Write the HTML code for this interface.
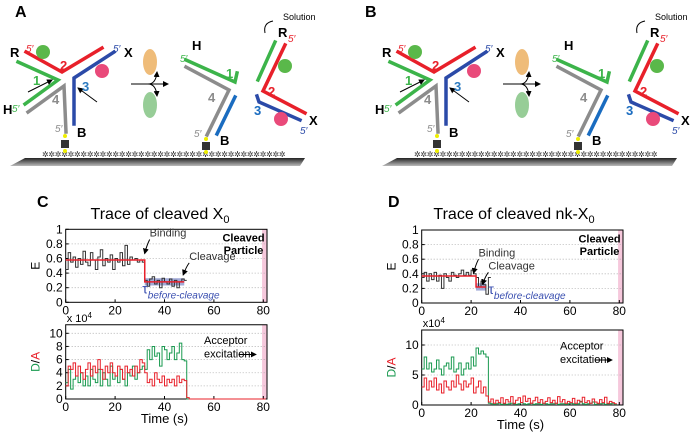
<!DOCTYPE html>
<html><head><meta charset="utf-8">
<style>
html,body{margin:0;padding:0;background:#fff;}
svg{display:block;font-family:"Liberation Sans",sans-serif;}
</style></head>
<body>
<svg id="fig" width="700" height="432" viewBox="0 0 700 432">
<defs>
<linearGradient id="surf" x1="0" y1="0" x2="0" y2="1"><stop offset="0" stop-color="#222"/><stop offset="1" stop-color="#bbb"/></linearGradient>
<marker id="arr" markerWidth="6" markerHeight="6" refX="5" refY="3" orient="auto"><path d="M0,0 L6,3 L0,6z" fill="#000"/></marker>
<g id="diagram">
  <polygon points="25,158 305,158 300,166 10,166" fill="url(#surf)"/>
  <text x="42" y="157" font-size="8" letter-spacing="-0.3" fill="#333">✲✲✲✲✲✲✲✲✲✲✲✲✲✲✲✲✲✲✲✲✲✲✲✲✲✲✲✲✲✲✲✲✲✲✲✲✲✲</text>
  <g fill="none" stroke-width="3.5" stroke-linecap="square">
    <polyline points="26,52 62,72 102,48" stroke="#e8202a"/>
    <polyline points="18,62 58,80 25,104" stroke="#3cb44a"/>
    <polyline points="114,52 74,78 74,124" stroke="#2b4aa8"/>
    <polyline points="28,112 64,86 66,132" stroke="#8c8c8c"/>
  </g>
  <circle cx="43" cy="52" r="7" fill="#5ab84a"/><circle cx="102" cy="71" r="7" fill="#e94a7a"/>
  <line x1="28" y1="92" x2="52" y2="80" stroke="#000" marker-end="url(#arr)"/>
  <line x1="97" y1="102" x2="78" y2="88" stroke="#000" marker-end="url(#arr)"/>
  <g font-weight="bold" font-size="13">
    <text x="10" y="57">R</text><text x="124" y="57">X</text><text x="3" y="114">H</text><text x="77" y="137">B</text>
    <text x="60" y="70" fill="#e8202a">2</text><text x="33" y="85" fill="#3cb44a">1</text><text x="82" y="91" fill="#2b7ac0">3</text><text x="52" y="104" fill="#8c8c8c">4</text>
  </g>
  <g font-style="italic" font-size="10">
    <text x="26" y="52" fill="#e8202a">5′</text><text x="113" y="52" fill="#2b4aa8">5′</text><text x="12" y="112" fill="#3cb44a">5′</text><text x="55" y="132" fill="#8c8c8c">5′</text>
  </g>
  <circle cx="65" cy="136" r="2" fill="#ee0"/><circle cx="65" cy="151" r="2" fill="#ee0"/>
  <rect x="61" y="140" width="8" height="8" fill="#333"/>
  <g><ellipse cx="150" cy="62" rx="7" ry="13" fill="#e8a040" opacity="0.7"/><ellipse cx="150" cy="105" rx="7" ry="13" fill="#6bb86b" opacity="0.7"/></g>
  <line x1="131" y1="84" x2="168" y2="84" stroke="#000" marker-end="url(#arr)"/>
  <path d="M148,84 q8,0 9,-12" fill="none" stroke="#000" marker-end="url(#arr)"/>
  <path d="M148,84 q8,0 9,12" fill="none" stroke="#000" marker-end="url(#arr)"/>
  <g fill="none" stroke-width="3.5" stroke-linecap="square">
    <polyline points="186,60 235,82 237,73" stroke="#3cb44a"/>
    <polyline points="186,67 229,90 207,135" stroke="#8c8c8c"/>
    <polyline points="235,97 217,134" stroke="#1a6cc0"/>
    <polyline points="258,80 275,42" stroke="#3cb44a"/>
    <polyline points="285,45 263,91 305,113" stroke="#e8202a"/>
    <polyline points="257,96 259,102 300,120" stroke="#2b4aa8"/>
  </g>
  <circle cx="285" cy="66" r="7" fill="#5ab84a"/><circle cx="281" cy="119" r="7" fill="#e94a7a"/>
  <path d="M265,33 q-2,-10 8,-12" fill="none" stroke="#000"/>
  <text x="283" y="20" font-size="9">Solution</text>
  <g font-weight="bold" font-size="13">
    <text x="192" y="50">H</text><text x="278" y="37">R</text><text x="309" y="125">X</text><text x="220" y="145">B</text>
    <text x="226" y="78" fill="#3cb44a">1</text><text x="268" y="96" fill="#e8202a">2</text><text x="254" y="115" fill="#1a6cc0">3</text><text x="208" y="102" fill="#8c8c8c">4</text>
  </g>
  <g font-style="italic" font-size="10">
    <text x="180" y="62" fill="#3cb44a">5′</text><text x="288" y="42" fill="#e8202a">5′</text><text x="300" y="134" fill="#2b4aa8">5′</text><text x="194" y="137" fill="#8c8c8c">5′</text>
  </g>
  <circle cx="206" cy="139" r="2" fill="#ee0"/><circle cx="206" cy="152" r="2" fill="#ee0"/>
  <rect x="202" y="142" width="8" height="8" fill="#333"/>
</g>
</defs>
<text x="15" y="17" font-size="16" font-weight="bold">A</text>
<use href="#diagram" x="0" y="0"/>
<text x="365" y="17" font-size="16" font-weight="bold">B</text>
<use href="#diagram" x="372" y="0"/>
<text x="37" y="207" font-size="16" font-weight="bold">C</text>
<text x="388" y="207" font-size="16" font-weight="bold">D</text>
<g id="charts"></g>
</svg>
<script>
// ---- Panel C data ----
const cE = [0.45,0.68,0.55,0.62,0.48,0.6,0.52,0.7,0.55,0.5,0.68,0.58,0.45,0.62,0.72,0.5,0.6,0.55,0.65,0.45,0.6,0.55,0.68,0.5,0.78,0.52,0.62,0.58,0.6,0.55,0.58,0.55,0.3,0.22,0.32,0.35,0.25,0.3,0.2,0.33,0.28,0.25,0.32,0.22,0.3,0.2,0.28,0.32,0.3];
const cEfit = [[0,32,0.58],[32,48,0.28]];
const cGreen = [2.5,4.5,1.5,3,3.5,2.5,4,2,3.5,2,4.5,3,2.5,4.5,2,4,3,2,5,3,3.5,2.5,4.5,3,2,4,3.5,5,3,4,4.5,5,4.5,7.5,6,8,6.5,7,5,8,7.5,6,7,8,6,7,8.5,6,5.8,0,0,0,0,0,0,0,0,0,0,0,0,0,0,0,0,0,0,0,0,0,0,0,0,0,0,0,0,0,0,0,0];
const cRed = [2,5,4.5,5.5,3.5,5,4,3,4.5,5.5,3.5,5,4,6,4.5,3,5,4,5.5,4,3.5,5,4.5,3,5,4,4.5,3.5,5,4,6,5.5,4,2.5,3,2,4,3,2.5,3.5,2,3,2.5,3,2,3.5,2.5,3,2.8,0.2,0,0,0,0,0,0,0,0,0,0,0,0,0,0,0,0,0,0,0,0,0,0,0,0,0,0,0,0,0,0,0];
// ---- Panel D data ----
const dE = [0.35,0.42,0.3,0.4,0.32,0.42,0.3,0.38,0.2,0.4,0.35,0.3,0.42,0.38,0.35,0.4,0.45,0.38,0.42,0.38,0.45,0.4,0.35,0.22,0.3,0.25,0.12,0.35];
const dEfit = [[0,22,0.37],[22,26,0.22]];
const dGreen = [6,8,6,7,5.5,6,7.5,6,5,6.5,7,6,8,5.5,6,7,5,6,7,6,8,6.5,9.5,8.5,9,8.5,8,0.3,0.2,0.1,0.2,0.3,0.1,0.2,0.1,0.2,0.3,0.2,0.1,0.2,0.4,0.2,0.1,0.2,0.3,0.1,0.2,0.2,0.1,0.3,0.2,0.1,0.2,0.2,0.3,0.1,0.2,0.2,0.1,0.2,0.3,0.2,0.1,0.2,0.6,0.2,0.1,0.2,0.3,0.5,0.1,0.2,0.2,0.3,0.1,0.2,0.2,0.3,0.1];
const dRed = [3,4.5,2.5,4,3,4.5,2.5,3.5,2,4,3,2.5,4,3,5,3.5,2.5,4,3,3.5,4.5,2,3,4,2,3,1.5,0.5,1,0.3,0.8,0.4,1.2,0.3,0.9,0.5,1.4,0.3,0.8,1.2,0.4,1.5,0.6,1.1,0.3,0.7,1.3,0.4,0.9,0.3,0.6,1.2,0.4,0.8,0.3,1.4,0.5,0.9,0.3,0.6,0.4,1.1,0.3,0.8,0.5,1.3,0.4,0.7,0.3,1.0,0.5,0.3,0.9,0.4,1.3,0.3,0.6,0.4,0.2];
const eTicks = [0,0.2,0.4,0.6,0.8,1];
const tTicks = [0,20,40,60,80];
const cDTicks = [0,2,4,6,8,10];
const dDTicks = [0,5,10];

const NS='http://www.w3.org/2000/svg';
const root=document.getElementById('charts');
function mk(tag,attrs,parent,text){const e=document.createElementNS(NS,tag);for(const k in attrs)e.setAttribute(k,attrs[k]);if(text!==undefined)e.textContent=text;(parent||root).appendChild(e);return e;}
function scale(d0,d1,r0,r1){return v=>r0+(v-d0)/(d1-d0)*(r1-r0);}
function stepPath(vals,x,y){let d='M'+x(0)+','+y(vals[0]);for(let i=0;i<vals.length;i++){d+=' H'+x(i+1);if(i+1<vals.length)d+=' V'+y(vals[i+1]);}return d;}

function axesBox(g,x,y,xmax,ymax,yTicks){
  const L=x(0),R=x(xmax),T=y(ymax),B=y(0);
  const pink=mk('rect',{x:x(79.5),y:T,width:R-x(79.5),height:B-T,fill:'#f6c8dc'},g);
  
  
  yTicks.forEach(t=>{
    if(t>0&&t<ymax) mk('line',{x1:L,x2:R,y1:y(t),y2:y(t),stroke:'#aaa','stroke-dasharray':'1,2','stroke-width':0.8},g);
    mk('line',{x1:L,x2:L+3,y1:y(t),y2:y(t),stroke:'#000'},g);
    const lab=mk('text',{x:L-3,y:y(t)+4,'font-size':12,'text-anchor':'end'},g,String(t));
    
    
  });
  tTicks.forEach(t=>{
    mk('line',{x1:x(t),x2:x(t),y1:B,y2:B-3,stroke:'#000'},g);
    const lab=mk('text',{x:x(t),y:B+12,'font-size':12,'text-anchor':'middle'},g,String(t));
    
    
  });
  const box=mk('rect',{x:L,y:T,width:R-L,height:B-T,fill:'none',stroke:'#000','stroke-width':1},g);
  
  
}

function panel(o){
  const g=mk('g',{});
  
  
  const xmax=81.5;
  const x=scale(0,80,o.x0,o.x80);
  const yE=scale(0,1,o.eB,o.eT);
  const yD=scale(0,o.dRef,o.dB,o.dRefY);
  const t=mk('text',{x:o.titleX,y:o.titleY,'font-size':16,'text-anchor':'middle'},g);
  
  
  t.appendChild(document.createTextNode(o.title));
  mk('tspan',{'font-size':11,dy:4},t,'0');
  axesBox(g,x,yE,xmax,1,eTicks);
  const eY=mk('text',{x:0,y:0,'font-size':12,transform:`translate(${o.x0-26},${(o.eB+o.eT)/2}) rotate(-90)`,'text-anchor':'middle'},g,'E');
  
  
  const fitLast=o.efit[o.efit.length-1];
  const band=mk('rect',{x:x(fitLast[0]),y:yE(fitLast[2]+0.05),width:x(fitLast[1])-x(fitLast[0]),height:yE(0)-yE(0.1),fill:'#7a88c8',opacity:0.7},g);
  
  
  const ep=mk('path',{d:stepPath(o.e,x,yE),fill:'none',stroke:'#333','stroke-width':1},g);
  
  
  let fd='';o.efit.forEach((s,i)=>{fd+=(i?' L':'M')+x(s[0])+','+yE(s[2])+' H'+x(s[1]);});
  const fp=mk('path',{d:fd,fill:'none',stroke:'#e8202a','stroke-width':1.5},g);
  
  
  axesBox(g,x,yD,xmax,o.dMax,o.dTicks);
  const gp=mk('path',{d:stepPath(o.green,x,yD),fill:'none',stroke:'#1a9a50','stroke-width':1},g);
  
  
  const rp=mk('path',{d:stepPath(o.red,x,yD),fill:'none',stroke:'#e8202a','stroke-width':1},g);
  
  
  const da=mk('text',{x:0,y:0,'font-size':12,transform:`translate(${o.x0-26},${(o.dB+yD(o.dMax))/2}) rotate(-90)`,'text-anchor':'middle'},g);
  
  
  mk('tspan',{fill:'#1a9a50'},da,'D');mk('tspan',{},da,'/');mk('tspan',{fill:'#e8202a'},da,'A');
  const ex=mk('text',{x:o.x0+1,y:yD(o.dMax)-3,'font-size':11},g,o.expLabel);
  mk('tspan',{'font-size':8,dy:-4},ex,'4');
  
  
  const tl=mk('text',{x:x(40),y:o.dB+24,'font-size':13,'text-anchor':'middle'},g,'Time (s)');
  
  
  const an=mk('g',{'font-size':11},g);
  
  
  mk('text',{x:x(72),y:yE(0.83),'font-weight':'bold','text-anchor':'middle'},an,'Cleaved');
  mk('text',{x:x(72),y:yE(0.66),'font-weight':'bold','text-anchor':'middle'},an,'Particle');
  mk('text',{x:x(o.bindX+1),y:yE(o.bindY),fill:'#333'},an,'Binding');
  mk('path',{d:`M${x(o.bindX+1)},${yE(o.bindY-0.04)} q-3,6 -5,14`,stroke:'#000',fill:'none','marker-end':'url(#arr)'},an);
  mk('text',{x:x(o.cleavX+3),y:yE(o.cleavY),fill:'#333'},an,'Cleavage');
  mk('path',{d:`M${x(o.cleavX+3)},${yE(o.cleavY-0.04)} q-3,4 -6,12`,stroke:'#000',fill:'none','marker-end':'url(#arr)'},an);
  const tau=mk('text',{x:x(o.tauX),y:yE(0.12),fill:'#3a4fb0','font-size':14},an,'τ');
  mk('tspan',{'font-size':10,'font-style':'italic',dy:5},tau,'before-cleavage');
  mk('text',{x:x(56),y:yD(o.dMax*0.74)},an,'Acceptor');
  mk('text',{x:x(56),y:yD(o.dMax*0.56)},an,'excitation');
  mk('line',{x1:x(70),x2:x(77),y1:yD(o.dMax*0.6),y2:yD(o.dMax*0.6),stroke:'#000','marker-end':'url(#arr)'},an);
}

panel({name:'panel-c-chart',title:'Trace of cleaved X',titleX:160,titleY:219,x0:65.7,x80:263.3,eT:229.3,eB:302.3,dB:399,dRef:10,dRefY:333.3,dMax:11.3,
  e:cE,efit:cEfit,green:cGreen,red:cRed,dTicks:cDTicks,expLabel:'x 10',bindX:33,bindY:0.9,cleavX:47,cleavY:0.58,tauX:31});
panel({name:'panel-d-chart',title:'Trace of cleaved nk-X',titleX:514,titleY:219,x0:421.7,x80:619.3,eT:230,eB:303,dB:405,dRef:10,dRefY:345,dMax:12.5,
  e:dE,efit:dEfit,green:dGreen,red:dRed,dTicks:dDTicks,expLabel:'x10',bindX:22,bindY:0.64,cleavX:24,cleavY:0.46,tauX:27});
</script>
</body></html>
